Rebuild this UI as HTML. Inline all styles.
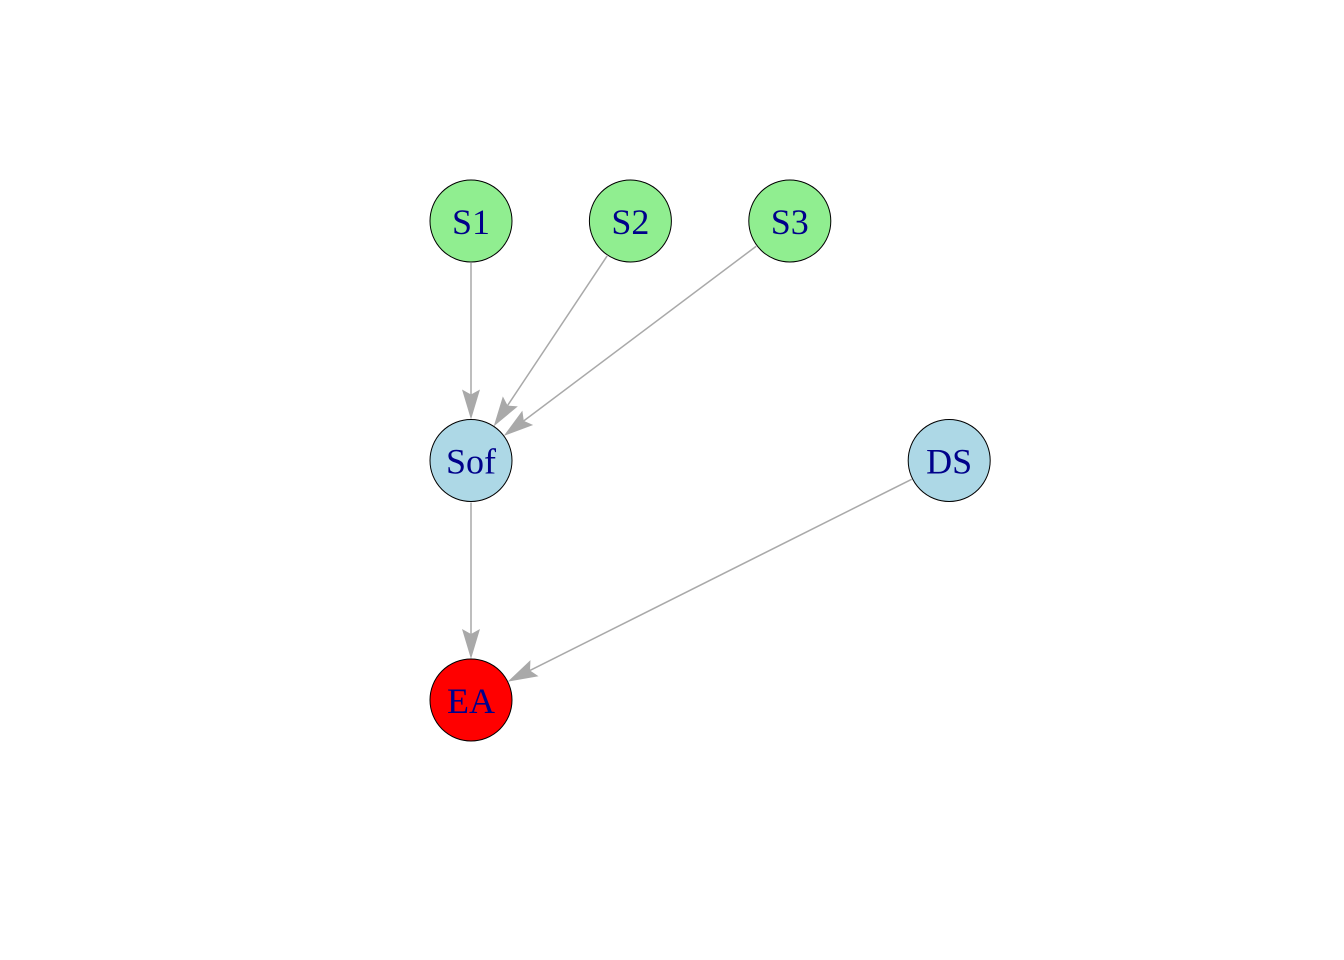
<!DOCTYPE html>
<html><head><meta charset="utf-8"><style>
html,body{margin:0;padding:0;background:#fff;}
svg{display:block;}
</style></head><body>
<svg id="chart" width="1344" height="960" xmlns="http://www.w3.org/2000/svg">
<rect width="1344" height="960" fill="#fff"/>
<g id="edges"></g>
<g id="nodes"></g>
</svg>
<script>
const nodeNames = ["S1","S2","S3","Sof","DS","EA"];
const nodeX = [0,1,2,0,3,0];
const nodeY = [2,2,2,1,1,0];
const nodeColors = ["#90EE90","#90EE90","#90EE90","#ADD8E6","#ADD8E6","#FF0000"];
const edgeFrom = ["S1","S2","S3","Sof","DS"];
const edgeTo = ["Sof","Sof","Sof","EA","EA"];

const NS="http://www.w3.org/2000/svg";
const sx = u => 471 + u*159.4;
const sy = v => 700 - v*239.5;
const R = 41;
const eg = document.getElementById('edges');
const ng = document.getElementById('nodes');
function idx(n){return nodeNames.indexOf(n);}
edgeFrom.forEach((f,i)=>{
  const a=idx(f), b=idx(edgeTo[i]);
  const x1=sx(nodeX[a]), y1=sy(nodeY[a]), x2=sx(nodeX[b]), y2=sy(nodeY[b]);
  const dx=x2-x1, dy=y2-y1, L=Math.hypot(dx,dy), ux=dx/L, uy=dy/L, px=-uy, py=ux;
  const sxp=x1+ux*(R+1), syp=y1+uy*(R+1);
  const tx=x2-ux*R, ty=y2-uy*R;
  const bx=tx-ux*30, by=ty-uy*30, nx=tx-ux*25, ny=ty-uy*25;
  const line=document.createElementNS(NS,'line');
  
  
  line.setAttribute('x1',sxp);line.setAttribute('y1',syp);
  line.setAttribute('x2',nx);line.setAttribute('y2',ny);
  line.setAttribute('stroke','#A9A9A9');line.setAttribute('stroke-width','1.5');
  eg.appendChild(line);
  const ar=document.createElementNS(NS,'polygon');
  
  
  ar.setAttribute('points',`${tx},${ty} ${bx+px*9},${by+py*9} ${nx},${ny} ${bx-px*9},${by-py*9}`);
  ar.setAttribute('fill','#A9A9A9');
  eg.appendChild(ar);
});
nodeNames.forEach((n,i)=>{
  const g=document.createElementNS(NS,'g');
  
  
  const c=document.createElementNS(NS,'circle');
  
  
  c.setAttribute('cx',sx(nodeX[i]));c.setAttribute('cy',sy(nodeY[i]));c.setAttribute('r',R);
  c.setAttribute('fill',nodeColors[i]);c.setAttribute('stroke','#000');c.setAttribute('stroke-width','1');
  g.appendChild(c);
  const t=document.createElementNS(NS,'text');
  
  
  t.setAttribute('x',sx(nodeX[i]));t.setAttribute('y',sy(nodeY[i])+13);
  t.setAttribute('text-anchor','middle');t.setAttribute('font-family','"Liberation Serif", serif');
  t.setAttribute('font-size','36');t.setAttribute('fill','#00008B');
  t.textContent=n;
  g.appendChild(t);
  ng.appendChild(g);
});
</script>
</body></html>
